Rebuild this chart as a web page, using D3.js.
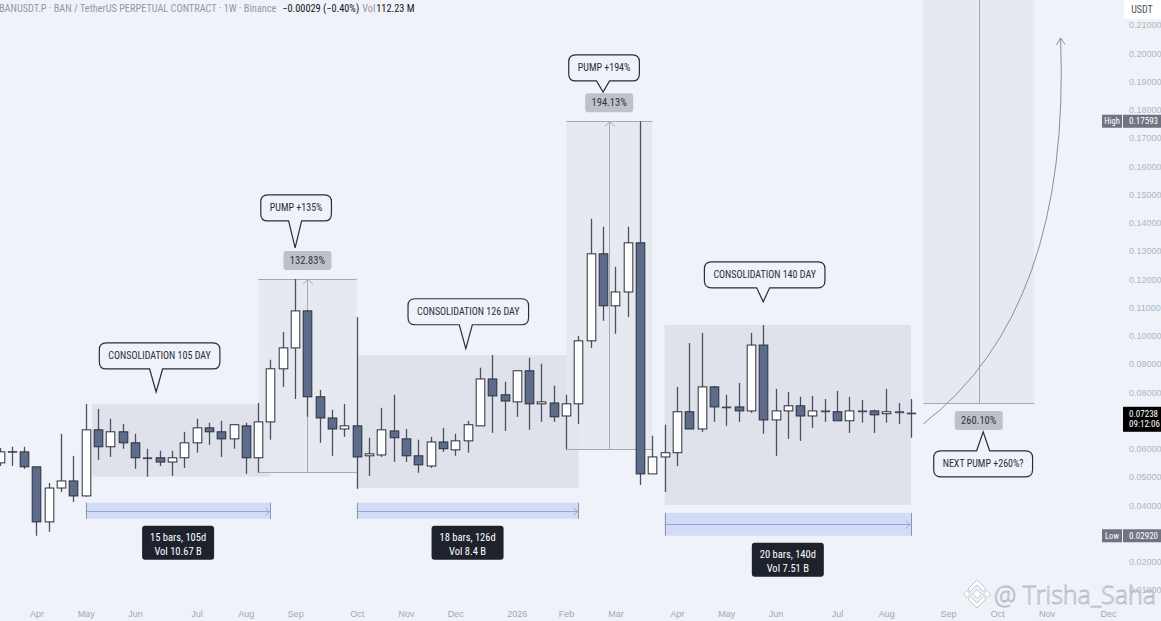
<!DOCTYPE html>
<html>
<head>
<meta charset="utf-8">
<script src="https://cdn.jsdelivr.net/npm/d3@7"></script>
<style>
html,body{margin:0;padding:0;background:#eff2f8;overflow:hidden}
svg{display:block;font-family:"Liberation Sans Narrow","Roboto Condensed",Roboto,sans-serif}
</style>
</head>
<body>
<svg id="chart" width="1161" height="621"></svg>
<script>
// BANUSDT.P weekly candles
var dates = ["2025-03-17","2025-03-24","2025-03-31","2025-04-07","2025-04-14","2025-04-21","2025-04-28","2025-05-05","2025-05-12","2025-05-19",
  "2025-05-26","2025-06-02","2025-06-09","2025-06-16","2025-06-23","2025-06-30","2025-07-07","2025-07-14","2025-07-21","2025-07-28",
  "2025-08-04","2025-08-11","2025-08-18","2025-08-25","2025-09-01","2025-09-08","2025-09-15","2025-09-22","2025-09-29","2025-10-06",
  "2025-10-13","2025-10-20","2025-10-27","2025-11-03","2025-11-10","2025-11-17","2025-11-24","2025-12-01","2025-12-08","2025-12-15",
  "2025-12-22","2025-12-29","2026-01-05","2026-01-12","2026-01-19","2026-01-26","2026-02-02","2026-02-09","2026-02-16","2026-02-23",
  "2026-03-02","2026-03-09","2026-03-16","2026-03-23","2026-03-30","2026-04-06","2026-04-13","2026-04-20","2026-04-27","2026-05-04",
  "2026-05-11","2026-05-18","2026-05-25","2026-06-01","2026-06-08","2026-06-15","2026-06-22","2026-06-29","2026-07-06","2026-07-13",
  "2026-07-20","2026-07-27","2026-08-03","2026-08-10","2026-08-17"];
var opens = [0.0550,0.0591,0.0589,0.0536,0.0341,0.0461,0.0486,0.0433,0.0667,0.0607,
  0.0660,0.0621,0.0568,0.0568,0.0553,0.0568,0.0621,0.0674,0.0660,0.0635,
  0.0681,0.0568,0.0695,0.0883,0.0957,0.1088,0.0784,0.0709,0.0670,0.0681,
  0.0575,0.0578,0.0663,0.0635,0.0575,0.0539,0.0624,0.0596,0.0628,0.0681,
  0.0847,0.0791,0.0766,0.0876,0.0759,0.0762,0.0716,0.0759,0.0982,0.1290,
  0.1106,0.1155,0.1329,0.0511,0.0571,0.0586,0.0731,0.0670,0.0819,0.0748,
  0.0748,0.0734,0.0967,0.0702,0.0734,0.0752,0.0716,0.0734,0.0731,0.0699,
  0.0734,0.0734,0.0724,0.0731,0.07267];
var highs = [0.0603,0.0607,0.0607,0.0536,0.0479,0.0653,0.0575,0.0759,0.0741,0.0706,
  0.0688,0.0653,0.0600,0.0593,0.0593,0.0660,0.0706,0.0692,0.0699,0.0688,
  0.0692,0.0762,0.0915,0.1014,0.1201,0.1090,0.0808,0.0738,0.0759,0.1066,
  0.0639,0.0745,0.0791,0.0670,0.0632,0.0642,0.0674,0.0653,0.0699,0.0887,
  0.0932,0.0837,0.0876,0.0922,0.0901,0.0823,0.0791,0.0999,0.1414,0.1386,
  0.1244,0.1386,0.17593,0.0646,0.0685,0.0819,0.0974,0.1010,0.0822,0.0791,
  0.0833,0.1010,0.1038,0.0812,0.0801,0.0784,0.0787,0.0776,0.0805,0.0784,
  0.0773,0.0738,0.0812,0.0762,0.0776];
var lows = [0.0539,0.0539,0.0529,0.0292,0.0306,0.0447,0.0412,0.0431,0.0561,0.0571,
  0.0600,0.0529,0.0501,0.0539,0.0504,0.0532,0.0586,0.0614,0.0571,0.0600,
  0.0511,0.0516,0.0632,0.0819,0.0776,0.0713,0.0621,0.0575,0.0642,0.0458,
  0.0504,0.0571,0.0553,0.0553,0.0515,0.0532,0.0589,0.0575,0.0586,0.0681,
  0.0656,0.0663,0.0713,0.0667,0.0695,0.0695,0.0598,0.0688,0.0957,0.1053,
  0.1007,0.1066,0.0472,0.0511,0.0447,0.0539,0.0670,0.0660,0.0695,0.0681,
  0.0695,0.0727,0.0653,0.0575,0.0635,0.0628,0.0674,0.0695,0.0699,0.0656,
  0.0692,0.0656,0.0692,0.0688,0.0639];
var closes = [0.0589,0.0590,0.0536,0.0341,0.0461,0.0486,0.0433,0.0667,0.0607,0.0660,
  0.0621,0.0568,0.0567,0.0553,0.0568,0.0621,0.0674,0.0660,0.0635,0.0685,
  0.0568,0.0695,0.0883,0.0957,0.1088,0.0784,0.0709,0.0670,0.0681,0.0571,
  0.0582,0.0667,0.0639,0.0575,0.0543,0.0624,0.0600,0.0628,0.0685,0.0847,
  0.0787,0.0769,0.0876,0.0759,0.0766,0.0713,0.0759,0.0982,0.1290,0.1106,
  0.1155,0.1329,0.0511,0.0571,0.0586,0.0731,0.0670,0.0819,0.0748,0.0747,
  0.0734,0.0967,0.0702,0.0734,0.0752,0.0716,0.0734,0.0733,0.0699,0.0734,
  0.0733,0.0720,0.0731,0.0727,0.07238];

// axis ticks
var tickDates = ["2025-04-07","2025-05-05","2025-06-02","2025-07-07","2025-08-04","2025-09-01","2025-10-06","2025-11-03","2025-12-01","2026-01-05",
  "2026-02-02","2026-03-02","2026-04-06","2026-05-04","2026-06-01","2026-07-06","2026-08-03","2026-09-07","2026-10-05","2026-11-02","2026-12-07"];
var tickLabels = ["Apr","May","Jun","Jul","Aug","Sep","Oct","Nov","Dec","2026","Feb","Mar","Apr","May","Jun","Jul","Aug","Sep","Oct","Nov","Dec"];
var priceTicks = [0.01,0.02,0.03,0.04,0.05,0.06,0.07,0.08,0.09,0.10,0.11,0.12,0.13,0.14,0.15,0.16,0.17,0.18,0.19,0.20,0.21];

// consolidation ranges
var consolStart = ["2025-05-08T12:00Z","2025-10-06","2026-03-30"];
var consolEnd = ["2025-08-18","2026-02-09","2026-08-17"];
var consolTop = [0.0758,0.0931,0.1038];
var consolBottom = [0.0501,0.0461,0.0401];

// date ranges under them
var bandStart = ["2025-05-05","2025-10-06","2026-03-30"];
var bandEnd = ["2025-08-18","2026-02-09","2026-08-17"];
var bandTop = [0.0409,0.0409,0.0373];
var bandBottom = [0.0352,0.0352,0.0292];
var bandBars = ["15 bars, 105d","18 bars, 126d","20 bars, 140d"];
var bandVol = ["Vol 10.67 B","Vol 8.4 B","Vol 7.51 B"];

// pump price ranges
var pumpStart = ["2025-08-11","2026-02-02","2026-08-24"];
var pumpEnd = ["2025-10-06","2026-03-23","2026-10-26"];
var pumpLow = [0.0516,0.0598,0.0762];
var pumpHigh = [0.1201,0.17593,0.2745];
var pumpLabel = ["132.83%","194.13%","260.10%"];

// callouts
var calloutText = ["CONSOLIDATION 105 DAY","PUMP +135%","CONSOLIDATION 126 DAY","PUMP +194%","CONSOLIDATION 140 DAY","NEXT PUMP +260%?"];
var calloutDate = ["2025-06-14","2025-09-01","2025-12-07","2026-02-23","2026-05-25","2026-09-27"];
var calloutPrice = [0.0801,0.1311,0.0954,0.1863,0.1120,0.0660];

// projected path
var curveDates = ["2026-08-24","2026-11-16","2026-11-10"];
var curvePrices = [0.0688,0.1092,0.2054];

var headerName = "BANUSDT.P · BAN / TetherUS PERPETUAL CONTRACT · 1W · Binance";
var headerChange = "\u22120.00029 (\u22120.40%)";
var headerVol = "112.23 M";
var lastTime = "09:12:06";

// ------------------------------------------------------------
var W = 1161, H = 621;
var svg = d3.select('#chart');
var parse = d3.isoParse;

var x = d3.scaleUtc()
    .domain([parse(dates[0]), parse(dates[dates.length-1])])
    .range([-0.5, 911]);
var y = d3.scaleLinear().domain([0.01, 0.21]).range([590, 25]);

var barW = (x(parse(dates[1])) - x(parse(dates[0]))) * 0.7;

var candles = dates.map((d,i)=>({date:parse(d),o:opens[i],h:highs[i],l:lows[i],c:closes[i]}));
var lastClose = closes[closes.length-1];
var tagPrices = [d3.max(highs), d3.min(lows), lastClose];

svg.append('rect').attr('width',W).attr('height',H).style('fill','#eff2f8');

svg.append('clipPath').attr('id','pane')
   .append('rect').attr('width',1120).attr('height',605);
var pane = svg.append('g').attr('clip-path','url(#pane)');

//consolidation boxes
pane.selectAll('rect.consol')
    .data(consolStart)
    .enter()
    .append('rect')
    .attr('class','consol')
    .attr('x',(d)=>x(parse(d)))
    .attr('y',(d,i)=>y(consolTop[i]))
    .attr('width',(d,i)=>x(parse(consolEnd[i]))-x(parse(d)))
    .attr('height',(d,i)=>y(consolBottom[i])-y(consolTop[i]))
    .style('fill','#dfe2eb');

//pump ranges
pumpStart.forEach(function(d,i){
    var x0 = x(parse(d)), x1 = x(parse(pumpEnd[i])), mx = (x0+x1)/2;
    var yt = y(pumpHigh[i]), yb = y(pumpLow[i]);
    var g = pane.append('g').attr('class','pump');
    g.append('rect').attr('x',x0).attr('y',yt).attr('width',x1-x0).attr('height',yb-yt)
     .style('fill','#e5e8f0').style('opacity',0.85);
    [yt,yb].forEach(function(yy){
        g.append('line').attr('x1',x0).attr('x2',x1)
         .attr('y1',Math.round(yy)+0.5).attr('y2',Math.round(yy)+0.5)
         .style('stroke','#a6a9b2').style('stroke-width',1);
    });
    g.append('line').attr('x1',Math.round(mx)+0.5).attr('x2',Math.round(mx)+0.5)
     .attr('y1',yb).attr('y2',yt)
     .style('stroke','#a6a9b2').style('stroke-width',1);
    g.append('path')
     .attr('d','M'+(mx-4.5)+','+(yt+5)+' L'+(mx+0.5)+','+(yt+0.5)+' L'+(mx+5.5)+','+(yt+5))
     .style('fill','none').style('stroke','#a6a9b2').style('stroke-width',1);
});

//date range bands
bandStart.forEach(function(d,i){
    var x0 = x(parse(d)), x1 = x(parse(bandEnd[i]));
    var yt = y(bandTop[i]), yb = y(bandBottom[i]), ym = Math.round((yt+yb)/2)+0.5;
    var g = pane.append('g').attr('class','band');
    g.append('rect').attr('x',x0).attr('y',yt).attr('width',x1-x0).attr('height',yb-yt)
     .style('fill','#d3dcf6');
    g.append('line').attr('x1',x0).attr('x2',x1).attr('y1',ym).attr('y2',ym)
     .style('stroke','#97a6cf').style('stroke-width',1.2);
    g.append('path').attr('d','M'+(x1-5)+','+(ym-4)+' L'+(x1-1)+','+ym+' L'+(x1-5)+','+(ym+4))
     .style('fill','none').style('stroke','#97a6cf').style('stroke-width',1);
    [x0,x1].forEach(function(xx){
        g.append('line').attr('x1',Math.round(xx)+0.5).attr('x2',Math.round(xx)+0.5)
         .attr('y1',yt).attr('y2',yb).style('stroke','#8e95a8').style('stroke-width',1);
    });
    //dark info label
    var lw = 72, lh = 34, lx = (x0+x1)/2 - lw/2, ly = yb + 7;
    g.append('rect').attr('x',lx).attr('y',ly).attr('width',lw).attr('height',lh).attr('rx',3)
     .style('fill','#1e222d');
    g.append('text').text(bandBars[i]).attr('x',lx+lw/2).attr('y',ly+12)
     .style('fill','#ffffff').style('font-size','10.5px')
     .style('text-anchor','middle').style('dominant-baseline','middle');
    g.append('text').text(bandVol[i]).attr('x',lx+lw/2).attr('y',ly+26)
     .style('fill','#ffffff').style('font-size','10.5px')
     .style('text-anchor','middle').style('dominant-baseline','middle');
});

//candles
var cg = pane.append('g').attr('class','candles');
cg.selectAll('g')
  .data(candles)
  .enter()
  .append('g')
  .each(function(d){
      var cx = Math.round(x(d.date));
      var up = d.c >= d.o;
      d3.select(this).append('line')
        .attr('x1',cx+0.5).attr('x2',cx+0.5)
        .attr('y1',y(d.h)).attr('y2',y(d.l))
        .style('stroke','#4b505d').style('stroke-width',1.3);
      var top = y(Math.max(d.o,d.c)), bot = y(Math.min(d.o,d.c));
      var hgt = Math.max(1, bot-top);
      d3.select(this).append('rect')
        .attr('x',cx+0.5-barW/2).attr('y',top)
        .attr('width',barW).attr('height',hgt)
        .style('fill',up?'#ffffff':'#5e6c8c')
        .style('stroke','#2a2e39').style('stroke-width',hgt>1.5?1:0.6);
  });

//pump % labels
pumpStart.forEach(function(d,i){
    var mx = (x(parse(d))+x(parse(pumpEnd[i])))/2;
    var below = i==2;
    var lw = 48, lh = 19;
    var ly = below ? y(pumpLow[i]) + 8 : y(pumpHigh[i]) - 9 - lh;
    pane.append('rect').attr('x',mx-lw/2).attr('y',ly).attr('width',lw).attr('height',lh).attr('rx',3)
        .style('fill','#bec1ca');
    pane.append('text').text(pumpLabel[i]).attr('x',mx).attr('y',ly+lh/2+0.5)
        .style('fill','#2f333d').style('font-size','10.5px')
        .style('text-anchor','middle').style('dominant-baseline','middle');
});

//projection curve
var cp = curveDates.map((d,i)=>[x(parse(d)), y(curvePrices[i])]);
pane.append('path')
    .attr('d','M'+cp[0]+' Q'+cp[1]+' '+cp[2])
    .style('fill','none').style('stroke','#8a8e99').style('stroke-width',1);
pane.append('path')
    .attr('d','M'+(cp[2][0]-4)+','+(cp[2][1]+7)+' L'+cp[2][0]+','+cp[2][1]+' L'+(cp[2][0]+4.5)+','+(cp[2][1]+6.5))
    .style('fill','none').style('stroke','#8a8e99').style('stroke-width',1);

//callouts
var calloutGap = [23,27,24,11,14,-19];   // px between pointer tip and box
var calloutShift = [3.5,1,2.5,1,1.5,0];
function calloutPath(x0,y0,x1,y1,r,ax,ay,bx,down){
    var p = 'M'+(x0+r)+','+y0;
    if(!down) p += ' H'+(bx-6.5)+' L'+ax+','+ay+' L'+(bx+6.5)+','+y0;
    p += ' H'+(x1-r)+' Q'+x1+','+y0+' '+x1+','+(y0+r)+' V'+(y1-r)+' Q'+x1+','+y1+' '+(x1-r)+','+y1;
    if(down) p += ' H'+(bx+6.5)+' L'+ax+','+ay+' L'+(bx-6.5)+','+y1;
    p += ' H'+(x0+r)+' Q'+x0+','+y1+' '+x0+','+(y1-r)+' V'+(y0+r)+' Q'+x0+','+y0+' '+(x0+r)+','+y0+' Z';
    return p;
}
calloutText.forEach(function(t,i){
    var ax = x(parse(calloutDate[i])), ay = y(calloutPrice[i]);
    var down = calloutGap[i] > 0, bh = 26;
    var cx = ax + calloutShift[i];
    var g = pane.append('g').attr('class','callout');
    var path = g.append('path');
    var txt = g.append('text').text(t)
        .attr('x',cx)
        .style('fill','#2a2e39').style('font-size','10px')
        .style('text-anchor','middle').style('dominant-baseline','middle');
    var bw = txt.node().getComputedTextLength() + 18;
    var y1 = down ? ay - calloutGap[i] : ay - calloutGap[i] + bh;
    var y0 = y1 - bh;
    txt.attr('y',(y0+y1)/2+0.5);
    path.attr('d',calloutPath(cx-bw/2,y0,cx+bw/2,y1,7,ax,ay,ax,down))
        .style('fill','#eff2f8').style('stroke','#2a2e39').style('stroke-width',1.2);
});

//time axis
var xAxis = d3.axisBottom(x)
    .tickValues(tickDates.map(parse))
    .tickFormat((d,i)=>tickLabels[i])
    .tickSize(0).tickPadding(0);
var xa = svg.append('g').attr('transform','translate(0,611)').call(xAxis);
xa.select('.domain').remove();
xa.selectAll('text').style('fill','#a4a7b0').style('font-size','9px')
  .style('font-family','inherit');

//price axis (labels under a price tag are hidden, as on the scale)
var shownTicks = priceTicks.filter((p)=>tagPrices.every((t)=>Math.abs(y(p)-y(t))>9));
var yAxis = d3.axisRight(y).tickValues(shownTicks).tickFormat(d3.format('.5f')).tickSize(0).tickPadding(0);
var ya = svg.append('g').attr('transform','translate(1129,0)').call(yAxis);
ya.select('.domain').remove();
ya.selectAll('text').style('fill','#b2b5be').style('font-size','9px')
  .style('font-family','inherit');

//price axis tags
svg.append('rect').attr('x',1124).attr('y',0).attr('width',37).attr('height',19).style('fill','#ffffff');
svg.append('text').text('USDT').attr('x',1142).attr('y',10)
   .style('fill','#4a4e59').style('font-size','10px')
   .style('text-anchor','middle').style('dominant-baseline','middle');

function tag(name, value){
    var yy = y(value);
    svg.append('rect').attr('x',1102).attr('y',yy-6.5).attr('width',20).attr('height',13).style('fill','#6f7482');
    svg.append('rect').attr('x',1123).attr('y',yy-6.5).attr('width',38).attr('height',13).style('fill','#6f7482');
    svg.append('text').text(name).attr('x',1112).attr('y',yy+0.5)
       .style('fill','#fff').style('font-size','8.5px')
       .style('text-anchor','middle').style('dominant-baseline','middle');
    svg.append('text').text(value.toFixed(5)).attr('x',1129).attr('y',yy+0.5)
       .style('fill','#fff').style('font-size','9px').style('dominant-baseline','middle');
}
tag('High', tagPrices[0]);
tag('Low', tagPrices[1]);

var lastY = y(lastClose);
svg.append('rect').attr('x',1123).attr('y',lastY-7).attr('width',38).attr('height',25).style('fill','#000000');
svg.append('text').text(lastClose.toFixed(5)).attr('x',1129).attr('y',lastY+0.5)
   .style('fill','#fff').style('font-size','9px').style('dominant-baseline','middle');
svg.append('text').text(lastTime).attr('x',1129).attr('y',lastY+11)
   .style('fill','#fff').style('font-size','9px').style('dominant-baseline','middle');

//header line
var hdr = svg.append('text').attr('x',-1).attr('y',11.5).style('font-size','10.3px');
hdr.append('tspan').text(headerName).style('fill','#9598a1');
hdr.append('tspan').text(headerChange).attr('dx',6).style('fill','#131722');
hdr.append('tspan').text('Vol').attr('dx',3).style('fill','#9598a1');
hdr.append('tspan').text(headerVol).attr('dx',1).style('fill','#131722');

//watermark
var wm = svg.append('g').attr('class','watermark')
    .style('fill','#ffffff').style('stroke','#b4b8c2').style('stroke-width',0.8);
var lc = [977,594];
function diamond(cx,cy,r){return 'M'+cx+','+(cy-r)+' L'+(cx+r)+','+cy+' L'+cx+','+(cy+r)+' L'+(cx-r)+','+cy+' Z';}
wm.append('path').attr('d',diamond(lc[0],lc[1],4.5));
wm.append('path').attr('d',diamond(lc[0]-10,lc[1],3.5));
wm.append('path').attr('d',diamond(lc[0]+10,lc[1],3.5));
wm.append('path').attr('d','M'+(lc[0]-9)+','+(lc[1]-5)+' L'+lc[0]+','+(lc[1]-14)+' L'+(lc[0]+9)+','+(lc[1]-5)+' L'+(lc[0]+6.5)+','+(lc[1]-2.5)+' L'+lc[0]+','+(lc[1]-9)+' L'+(lc[0]-6.5)+','+(lc[1]-2.5)+' Z');
wm.append('path').attr('d','M'+(lc[0]-9)+','+(lc[1]+5)+' L'+lc[0]+','+(lc[1]+14)+' L'+(lc[0]+9)+','+(lc[1]+5)+' L'+(lc[0]+6.5)+','+(lc[1]+2.5)+' L'+lc[0]+','+(lc[1]+9)+' L'+(lc[0]-6.5)+','+(lc[1]+2.5)+' Z');
wm.append('text').text('@ Trisha_Saha').attr('x',994).attr('y',604)
  .style('font-family','"Open Sans",sans-serif').style('font-weight',300).style('font-size','25px');
</script>
</body>
</html>
